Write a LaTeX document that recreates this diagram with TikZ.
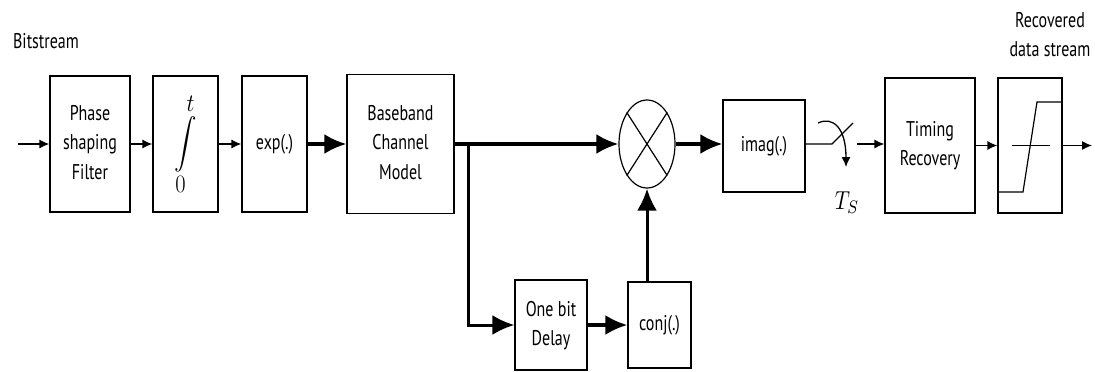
\documentclass[tikz,border=0pt]{standalone}
\usepackage{fontspec}
\setmainfont{PT Sans}
\usepackage{graphicx}
\usepackage{amsmath}
\usetikzlibrary{arrows.meta, shapes.geometric, calc}
\newcommand{\BlockText}[1]{%
	\scalebox{1}[1.33]{\begin{tabular}{@{}c@{}}#1\end{tabular}}%
}

\begin{document}
\begin{tikzpicture}[x=1pt, y=-1pt,
	blk/.style = {draw, line width=1.2pt, inner sep=0pt, font=\fontsize{16}{22}\selectfont},
	sig/.style = {line width=1.3pt, -{Latex[length=10pt, width=9pt]}},
	bus/.style = {line width=3.5pt, -{Latex[length=22pt, width=20pt]}}]
	\useasboundingbox (0,0) rectangle (1095,372);
	
	% labels
	\node [font=\fontsize{16}{22}\selectfont] (bits) at (46,43) {\BlockText{Bitstream}};
	\node [font=\fontsize{16}{22}\selectfont] (recov) at (1050,36) {\BlockText{Recovered\\data stream}};
	
	% upper chain
	\coordinate (in) at (18,144);
	\node [blk, minimum width=80pt, minimum height=136pt] (phase) at (90,144) {\BlockText{Phase\\shaping\\Filter}};
	\node [blk, minimum width=65pt, minimum height=136pt] (integ) at (185.5,144) {\scalebox{1.3}[1.45]{$\displaystyle\int\limits_{\textstyle 0}^{\textstyle t}$}};
	\node [blk, minimum width=65pt, minimum height=136pt] (expo) at (274.5,144) {\BlockText{exp(.)}};
	\node [blk, minimum width=107pt, minimum height=139pt] (chan) at (400.5,144) {\BlockText{Baseband\\Channel\\Model}};
	\node [draw, ellipse, line width=1.2pt, inner sep=0pt, minimum width=56pt, minimum height=88pt] (mult) at (647,144) {};
	\draw [line width=1.2pt] (mult.north west) -- (mult.south east) (mult.north east) -- (mult.south west);
	\node [blk, minimum width=82pt, minimum height=92pt] (imag) at (764,146) {\BlockText{imag(.)}};
	\node [blk, minimum width=90pt, minimum height=135pt] (timing) at (930,145.5) {\BlockText{Timing\\Recovery}};
	\node [blk, minimum width=64pt, minimum height=135pt] (slicer) at (1030,145.5) {};
	\coordinate (out) at (1092,145.5);
	
	% lower branch
	\coordinate (split) at (468,144);
	\node [blk, minimum width=72pt, minimum height=90pt] (delay) at (551,325) {\BlockText{One bit\\Delay}};
	\node [blk, minimum width=63pt, minimum height=86pt] (conj) at (659.5,325) {\BlockText{conj(.)}};
	
	% sampler
	\coordinate (sw1) at (832,144);
	\coordinate (sw1end) at (853,123);
	\coordinate (sw0) at (818,123);
	\coordinate (swtip) at (846,167);
	\coordinate (sw2) at (857,144);
	\node (ts) at (847,203) {\scalebox{2.1}[2.6]{$T_S$}};
	
	% slicer curve
	\draw [line width=1.2pt] (1012,145.5) -- (1050,145.5);
	\draw [line width=1.2pt] (slicer.west |- 0,192) -- (1023,192) -- (1037,102) -- (slicer.east |- 0,102);
	
	% connections
	\draw [sig] (in) -- (phase);
	\draw [sig] (phase) -- (integ);
	\draw [sig] (integ) -- (expo);
	\draw [bus] (expo) -- (chan);
	\draw [bus] (chan) -- (mult);
	\draw [bus] (mult) -- (imag.west |- mult);
	\draw [bus, line width=3pt] (split) |- (delay);
	\draw [bus] (delay) -- (conj);
	\draw [bus, line width=3pt] (mult |- conj.north) -- (mult.south);
	\draw [line width=1.3pt] (imag.east |- sw1) -- (sw1) -- (sw1end);
	\draw [sig] (sw0) .. controls (833,116) and (846,128) .. (swtip);
	\draw [sig] (sw2) -- (timing.west |- sw2);
	\draw [sig] (timing) -- (slicer);
	\draw [sig] (slicer) -- (out);
\end{tikzpicture}
\end{document}
